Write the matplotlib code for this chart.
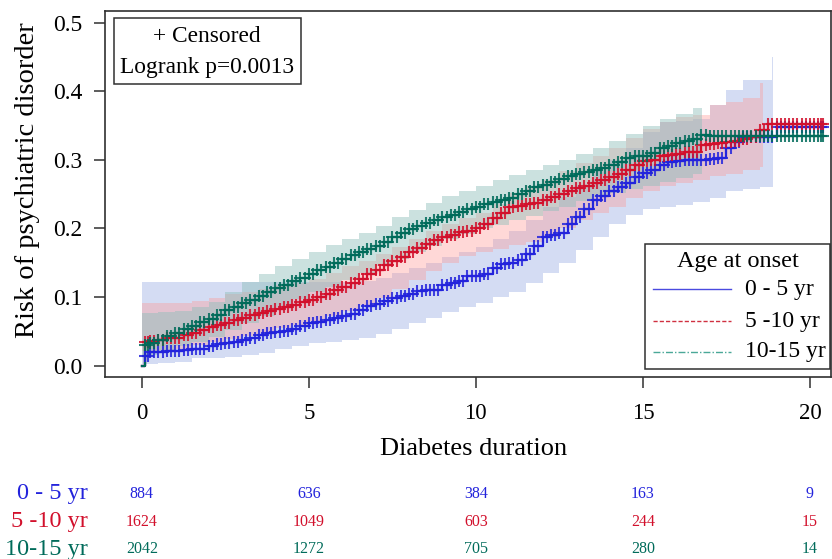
import matplotlib
matplotlib.use("Agg")
import matplotlib.pyplot as plt
from matplotlib.patches import Rectangle
from matplotlib.lines import Line2D
from matplotlib.transforms import blended_transform_factory

plt.rcParams['font.family'] = ['Liberation Serif', 'DejaVu Serif']

# ---------------- data ----------------
groups = ["0 - 5 yr", "5 -10 yr", "10-15 yr"]
line_colors = ["#2323dc", "#d2102c", "#006b5a"]
band_colors = ["#5a78d2", "#ff9591", "#8cbeb9"]
band_alphas = [0.26, 0.36, 0.45]
legend_colors = ["#4a4ae0", "#d03040", "#4aa898"]

# time points (years) at which the step curves were read
years = [0, 0.1] + [q / 4 for q in range(1, 82)] + [20.4]

risk_0_5 = [0.0, 0.014,
            0.020, 0.020, 0.021, 0.022, 0.023, 0.024, 0.025, 0.028, 0.031, 0.033,
            0.035, 0.038, 0.041, 0.045, 0.047, 0.049, 0.051, 0.054, 0.058, 0.062,
            0.064, 0.066, 0.069, 0.072, 0.076, 0.081, 0.087, 0.090, 0.094, 0.098,
            0.101, 0.105, 0.109, 0.110, 0.111, 0.117, 0.120, 0.124, 0.130, 0.131,
            0.134, 0.142, 0.148, 0.150, 0.154, 0.163, 0.175, 0.187, 0.190, 0.194,
            0.206, 0.216, 0.229, 0.242, 0.248, 0.255, 0.261, 0.266, 0.275, 0.281,
            0.285, 0.293, 0.297, 0.299, 0.300, 0.300, 0.300, 0.301, 0.302, 0.317,
            0.326, 0.333, 0.334, 0.334, 0.334, 0.348, 0.348, 0.348, 0.348, 0.348,
            0.348, 0.348]
risk_5_10 = [0.0, 0.034,
             0.036, 0.038, 0.040, 0.041, 0.044, 0.048, 0.052, 0.056, 0.059, 0.062,
             0.066, 0.070, 0.074, 0.077, 0.080, 0.083, 0.086, 0.089, 0.093, 0.096,
             0.100, 0.105, 0.110, 0.115, 0.120, 0.126, 0.133, 0.140, 0.147, 0.153,
             0.159, 0.166, 0.172, 0.178, 0.183, 0.187, 0.191, 0.195, 0.197, 0.201,
             0.207, 0.215, 0.223, 0.231, 0.233, 0.235, 0.237, 0.241, 0.246, 0.250,
             0.255, 0.259, 0.262, 0.266, 0.270, 0.275, 0.280, 0.285, 0.292, 0.298,
             0.300, 0.305, 0.307, 0.309, 0.311, 0.312, 0.322, 0.323, 0.324, 0.326,
             0.328, 0.330, 0.333, 0.344, 0.353, 0.353, 0.353, 0.353, 0.353, 0.353,
             0.353, 0.353]
risk_10_15 = [0.0, 0.030,
              0.033, 0.038, 0.043, 0.048, 0.053, 0.058, 0.063, 0.068, 0.074, 0.081,
              0.086, 0.091, 0.096, 0.102, 0.108, 0.113, 0.118, 0.123, 0.128, 0.134,
              0.139, 0.144, 0.150, 0.156, 0.162, 0.166, 0.170, 0.175, 0.181, 0.187,
              0.194, 0.199, 0.204, 0.208, 0.212, 0.216, 0.220, 0.224, 0.228, 0.232,
              0.236, 0.238, 0.241, 0.245, 0.250, 0.255, 0.260, 0.264, 0.268, 0.272,
              0.276, 0.279, 0.282, 0.285, 0.288, 0.292, 0.297, 0.303, 0.305, 0.306,
              0.310, 0.317, 0.320, 0.324, 0.327, 0.330, 0.336, 0.335, 0.335, 0.335,
              0.335, 0.335, 0.335, 0.335, 0.335, 0.335, 0.335, 0.335, 0.335, 0.335,
              0.335, 0.335]

# confidence bands, read every half year
band_years = [h / 2 for h in range(0, 38)]

lower_0_5 = [0.003, 0.004, 0.005, 0.011, 0.011, 0.012, 0.016, 0.019, 0.024, 0.028,
             0.033, 0.035, 0.038, 0.041, 0.046, 0.053, 0.062, 0.070, 0.078, 0.086,
             0.092, 0.100, 0.108, 0.120, 0.135, 0.150, 0.168, 0.187, 0.206, 0.220,
             0.228, 0.232, 0.234, 0.238, 0.245, 0.254, 0.258, 0.261, 0.261]
upper_0_5 = [0.122, 0.122, 0.122, 0.122, 0.122, 0.122, 0.122, 0.122, 0.122, 0.122,
             0.122, 0.122, 0.122, 0.123, 0.128, 0.135, 0.143, 0.150, 0.158, 0.166,
             0.173, 0.184, 0.196, 0.212, 0.232, 0.246, 0.263, 0.285, 0.300, 0.318,
             0.340, 0.355, 0.357, 0.360, 0.380, 0.402, 0.417, 0.417, 0.450]
band_t_0_5 = band_years + [18.85]
band_end_0_5 = 18.9

lower_5_10 = [0.022, 0.023, 0.025, 0.030, 0.035, 0.039, 0.043, 0.048, 0.055, 0.060,
              0.065, 0.072, 0.080, 0.089, 0.098, 0.112, 0.125, 0.138, 0.150, 0.160,
              0.165, 0.170, 0.176, 0.181, 0.187, 0.200, 0.212, 0.222, 0.232, 0.244,
              0.254, 0.262, 0.266, 0.270, 0.277, 0.280, 0.285, 0.290]
upper_5_10 = [0.091, 0.091, 0.092, 0.095, 0.099, 0.104, 0.108, 0.112, 0.117, 0.121,
              0.127, 0.135, 0.145, 0.153, 0.163, 0.173, 0.185, 0.196, 0.206, 0.215,
              0.222, 0.235, 0.252, 0.262, 0.270, 0.284, 0.296, 0.305, 0.318, 0.332,
              0.345, 0.355, 0.362, 0.366, 0.380, 0.385, 0.390, 0.412]
band_t_5_10 = band_years
band_end_5_10 = 18.6

lower_10_15 = [0.015, 0.022, 0.028, 0.035, 0.042, 0.052, 0.062, 0.072, 0.085, 0.097,
               0.108, 0.115, 0.125, 0.135, 0.145, 0.155, 0.165, 0.175, 0.185, 0.192,
               0.200, 0.205, 0.212, 0.218, 0.225, 0.232, 0.240, 0.246, 0.252, 0.258,
               0.262, 0.268, 0.274, 0.280]
upper_10_15 = [0.077, 0.078, 0.080, 0.086, 0.093, 0.108, 0.122, 0.133, 0.146, 0.156,
               0.166, 0.176, 0.185, 0.194, 0.203, 0.216, 0.227, 0.237, 0.247, 0.255,
               0.262, 0.270, 0.278, 0.285, 0.292, 0.300, 0.308, 0.318, 0.328, 0.338,
               0.349, 0.360, 0.367, 0.376]
band_t_10_15 = band_years[:34]
band_end_10_15 = 16.76

# numbers at risk
risk_times = [0, 5, 10, 15, 20]
at_risk_0_5 = [884, 636, 384, 163, 9]
at_risk_5_10 = [1624, 1049, 603, 244, 15]
at_risk_10_15 = [2042, 1272, 705, 280, 14]

x_ticks = [0, 5, 10, 15, 20]
y_ticks = [0.0, 0.1, 0.2, 0.3, 0.4, 0.5]

# ---------------- figure ----------------
W, H = 832, 559
fig = plt.figure(figsize=(W / 100, H / 100), dpi=100)
AX_L, AX_R, AX_T, AX_B = 105, 831, 11, 377
ax = fig.add_axes([AX_L / W, 1 - AX_B / H, (AX_R - AX_L) / W, (AX_B - AX_T) / H])
ax.set_xlim(-1.1, 20.63)
ax.set_ylim(-0.0165, 0.517)


def axfrac(px, py):
    return ((px - AX_L) / (AX_R - AX_L), (AX_B - py) / (AX_B - AX_T))


bands = [(band_t_0_5, lower_0_5, upper_0_5, band_end_0_5),
         (band_t_5_10, lower_5_10, upper_5_10, band_end_5_10),
         (band_t_10_15, lower_10_15, upper_10_15, band_end_10_15)]
for (bt, lo, hi, end), col, a in zip(bands, band_colors, band_alphas):
    xs = list(bt) + [end]
    ax.fill_between(xs, list(lo) + [lo[-1]], list(hi) + [hi[-1]], step='post',
                    facecolor=col, alpha=a, linewidth=0, zorder=1)

series = [risk_0_5, risk_5_10, risk_10_15]
for vals, col in zip(series, line_colors):
    ax.step(years, vals, where='post', color=col, linewidth=1.6, zorder=3)
    # censoring marks: at each read time and halfway to the next one (on the step)
    mx = list(years[1:])
    my = list(vals[1:])
    for i in range(1, len(years) - 1):
        mx.append((years[i] + years[i + 1]) / 2)
        my.append(vals[i])
    ax.plot(mx, my, linestyle='none', marker='+', markersize=9,
            markeredgewidth=1.5, color=col, alpha=0.85, zorder=4)

# axes styling
for s in ax.spines.values():
    s.set_linewidth(1.2)
    s.set_color('#303030')
ax.set_xticks(x_ticks)
ax.set_xticklabels([str(v) for v in x_ticks])
ax.set_yticks(y_ticks)
ax.set_yticklabels([f"{v:.1f}" for v in y_ticks])
ax.tick_params(axis='both', direction='out', length=8, width=1.1, colors='#303030',
               labelcolor='black')
ax.tick_params(axis='x', pad=11, labelsize=16.5)
ax.tick_params(axis='y', pad=8, labelsize=17)

fig.text(28 / W, 1 - 180 / H, "Risk of psychiatric disorder", rotation=90,
         ha='center', va='center', fontsize=20.5)
fig.text(474 / W, 1 - 449 / H, "Diabetes duration", ha='center', va='center',
         fontsize=19)

# censored / logrank box
x0, y0 = axfrac(114, 84)
x1, y1 = axfrac(301, 18)
ax.add_patch(Rectangle((x0, y0), x1 - x0, y1 - y0, transform=ax.transAxes,
                       facecolor='white', edgecolor='#303030', linewidth=1.1, zorder=6))
cx, cy = axfrac(207, 36)
ax.text(cx, cy, "+ Censored", transform=ax.transAxes, ha='center', va='center',
        fontsize=16.8, zorder=7)
cx, cy = axfrac(207, 68)
ax.text(cx, cy, "Logrank p=0.0013", transform=ax.transAxes, ha='center', va='center',
        fontsize=16.8, zorder=7)

# legend box
x0, y0 = axfrac(645, 369)
x1, y1 = axfrac(830, 244)
ax.add_patch(Rectangle((x0, y0), x1 - x0, y1 - y0, transform=ax.transAxes,
                       facecolor='white', edgecolor='#303030', linewidth=1.1, zorder=6))
tx, ty = axfrac(738, 262)
ax.text(tx, ty, "Age at onset", transform=ax.transAxes, ha='center', va='center',
        fontsize=17.5, zorder=7)
styles = ['-', (0, (3, 1.5)), (0, (5, 1.5, 1, 1.5))]
entry_y = [289, 321, 352]
for g, col, ls, py in zip(groups, legend_colors, styles, entry_y):
    lx0, ly = axfrac(653, py)
    lx1, _ = axfrac(731, py)
    ax.add_line(Line2D([lx0, lx1], [ly, ly], transform=ax.transAxes, color=col,
                       linestyle=ls, linewidth=1.0, zorder=7))
    tx, _ = axfrac(745, py)
    ax.text(tx, ly, g, transform=ax.transAxes, ha='left', va='center',
            fontsize=17, zorder=7)

# numbers at risk table
trans = blended_transform_factory(ax.transData, fig.transFigure)
row_y = [494, 522, 549]
for g, counts, col, py in zip(groups, [at_risk_0_5, at_risk_5_10, at_risk_10_15],
                              line_colors, row_y):
    fig.text(88 / W, 1 - py / H, g, ha='right', va='center', fontsize=17.5, color=col)
    for t, n in zip(risk_times, counts):
        ax.text(t, 1 - py / H, str(n), transform=trans, ha='center', va='center',
                fontsize=11.5, color=col, clip_on=False)

fig.savefig("out.png", dpi=100)
